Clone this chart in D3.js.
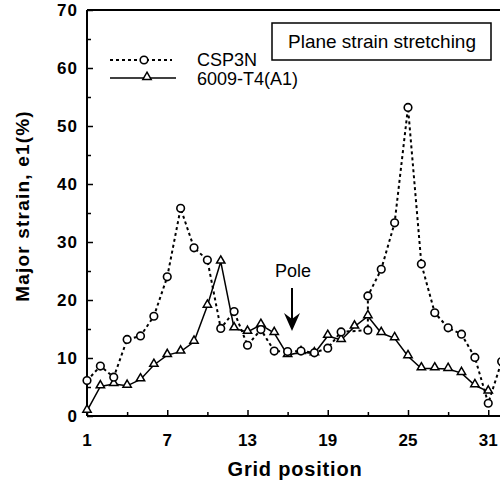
<!DOCTYPE html>
<html>
<head>
<meta charset="utf-8">
<script src="https://cdnjs.cloudflare.com/ajax/libs/d3/7.8.5/d3.min.js"></script>
<style>
	body { margin: 0; background: #fff; }
	svg { display: block; font-family: "Liberation Sans", Arial, sans-serif; }
</style>
</head>
<body>
<svg id="chart" width="500" height="485"></svg>
<script>

// grid positions and major strain values
var cspX = [1, 2, 3, 4, 5, 6, 7, 8, 9, 10, 11, 12, 13, 14, 15, 16, 17, 18, 19, 20, 22, 22, 23, 24, 25, 26, 27, 28, 29, 30, 31, 32];
var cspY = [6.1, 8.6, 6.7, 13.2, 13.8, 17.2, 24.0, 35.8, 29.0, 26.9, 15.1, 18.0, 12.2, 14.9, 11.2, 11.1, 11.2, 10.9, 11.7, 14.5, 14.8, 20.7, 25.3, 33.3, 53.2, 26.2, 17.8, 15.2, 14.1, 10.1, 2.2, 9.4];

var alX = [1, 2, 3, 4, 5, 6, 7, 8, 9, 10, 11, 12, 13, 14, 15, 16, 17, 18, 19, 20, 21, 22, 23, 24, 25, 26, 27, 28, 29, 30, 31];
var alY = [0.9, 5.1, 5.5, 5.2, 6.3, 8.8, 10.5, 11.1, 12.8, 19.0, 26.6, 15.1, 14.5, 15.7, 14.3, 10.5, 11.0, 10.8, 13.8, 13.1, 15.4, 17.2, 14.3, 13.4, 10.3, 8.2, 8.2, 8.1, 7.4, 5.3, 4.2];

var xMajor = [1, 7, 13, 19, 25, 31];
var xMinor = [4, 10, 16, 22, 28];
var yMajor = [0, 10, 20, 30, 40, 50, 60, 70];
var yMinor = [5, 15, 25, 35, 45, 55, 65];

var seriesNames = ["CSP3N", "6009-T4(A1)"];

var svg = d3.select("#chart");

// the right side of the frame runs off the picture
var x = d3.scaleLinear().domain([1, 33]).range([87, 515]);
var y = d3.scaleLinear().domain([0, 70]).range([416, 10]);

//frame
svg.append("line").attr("x1", x(1)).attr("x2", x(1)).attr("y1", y(0)).attr("y2", y(70))
	.attr("stroke", "#000").attr("stroke-width", 2);
svg.append("line").attr("x1", x(1)).attr("x2", 500).attr("y1", y(0)).attr("y2", y(0))
	.attr("stroke", "#000").attr("stroke-width", 2);
svg.append("line").attr("x1", x(1)).attr("x2", 500).attr("y1", y(70)).attr("y2", y(70))
	.attr("stroke", "#000").attr("stroke-width", 2);

// axes with inward ticks
var yAxis = d3.axisRight(y).tickValues(yMajor).tickSize(6).tickFormat("");
var yAxisMinor = d3.axisRight(y).tickValues(yMinor).tickSize(4).tickFormat("");
var xAxis = d3.axisTop(x).tickValues(xMajor).tickSize(6).tickFormat("");
var xAxisMinor = d3.axisTop(x).tickValues(xMinor).tickSize(4).tickFormat("");

[yAxis, yAxisMinor].forEach(function (ax) {
	var g = svg.append("g").attr("transform", "translate(" + x(1) + ",0)").call(ax);
	g.select(".domain").remove();
	g.selectAll("line").attr("stroke-width", 1.5);
});
[xAxis, xAxisMinor].forEach(function (ax) {
	var g = svg.append("g").attr("transform", "translate(0," + y(0) + ")").call(ax);
	g.select(".domain").remove();
	g.selectAll("line").attr("stroke-width", 1.5);
});

// tick labels
svg.selectAll(".ylab").data(yMajor).enter().append("text")
	.attr("x", 78).attr("y", function (d) { return y(d) + 6; })
	.attr("text-anchor", "end").attr("font-size", 17).attr("font-weight", "bold")
	.attr("letter-spacing", 1)
	.text(function (d) { return d; });
svg.selectAll(".xlab").data(xMajor).enter().append("text")
	.attr("x", function (d) { return x(d); }).attr("y", 446)
	.attr("text-anchor", "middle").attr("font-size", 17).attr("font-weight", "bold")
	.text(function (d) { return d; });

// axis titles
svg.append("text").attr("x", 295).attr("y", 476).attr("text-anchor", "middle")
	.attr("font-size", 20).attr("font-weight", "bold").attr("letter-spacing", 0.8)
	.text("Grid position");
svg.append("text").attr("transform", "translate(29,206) rotate(-90)").attr("text-anchor", "middle")
	.attr("font-size", 19).attr("font-weight", "bold").attr("letter-spacing", 1.2)
	.text("Major strain, e1(%)");

// lines
var line = d3.line().x(function (d) { return x(d[0]); }).y(function (d) { return y(d[1]); });
var cspData = d3.zip(cspX, cspY);
var alData = d3.zip(alX, alY);

svg.append("path").datum(cspData).attr("d", line).attr("fill", "none")
	.attr("stroke", "#000").attr("stroke-width", 2).attr("stroke-dasharray", "3,3");
svg.append("path").datum(alData).attr("d", line).attr("fill", "none")
	.attr("stroke", "#000").attr("stroke-width", 1.5);

var tri = d3.symbol().type(d3.symbolTriangle).size(30);

svg.selectAll(".tri").data(alData).enter().append("path")
	.attr("d", tri)
	.attr("transform", function (d) { return "translate(" + x(d[0]) + "," + (y(d[1]) - 1) + ")"; })
	.attr("fill", "#fff").attr("stroke", "#000").attr("stroke-width", 1.5);
svg.selectAll(".circ").data(cspData).enter().append("circle")
	.attr("cx", function (d) { return x(d[0]); }).attr("cy", function (d) { return y(d[1]); })
	.attr("r", 3.8).attr("fill", "#fff").attr("stroke", "#000").attr("stroke-width", 1.6);

// legend
svg.append("line").attr("x1", 110).attr("x2", 172).attr("y1", 60).attr("y2", 60)
	.attr("stroke", "#000").attr("stroke-width", 2).attr("stroke-dasharray", "3,3");
svg.append("circle").attr("cx", 144).attr("cy", 60).attr("r", 3.8)
	.attr("fill", "#fff").attr("stroke", "#000").attr("stroke-width", 1.6);
svg.append("line").attr("x1", 110).attr("x2", 176).attr("y1", 78).attr("y2", 78)
	.attr("stroke", "#000").attr("stroke-width", 1.5);
svg.append("path").attr("d", tri).attr("transform", "translate(147,77)")
	.attr("fill", "#fff").attr("stroke", "#000").attr("stroke-width", 1.5);
svg.selectAll(".legtext").data(seriesNames).enter().append("text")
	.attr("x", 197).attr("y", function (d, i) { return 66 + i * 19; })
	.attr("font-size", 18).text(function (d) { return d; });

// title box
svg.append("rect").attr("x", 272).attr("y", 23).attr("width", 219).attr("height", 37)
	.attr("fill", "#fff").attr("stroke", "#000").attr("stroke-width", 1.5);
svg.append("text").attr("x", 382).attr("y", 48).attr("text-anchor", "middle")
	.attr("font-size", 19).text("Plane strain stretching");

// pole marker
svg.append("text").attr("x", 293).attr("y", 277).attr("text-anchor", "middle")
	.attr("font-size", 18).text("Pole");
svg.append("line").attr("x1", 292).attr("x2", 292).attr("y1", 288).attr("y2", 320)
	.attr("stroke", "#000").attr("stroke-width", 2);
svg.append("path").attr("d", "M284,313 L292,331 L300,313 L292,319 Z").attr("fill", "#000");

</script>
</body>
</html>
